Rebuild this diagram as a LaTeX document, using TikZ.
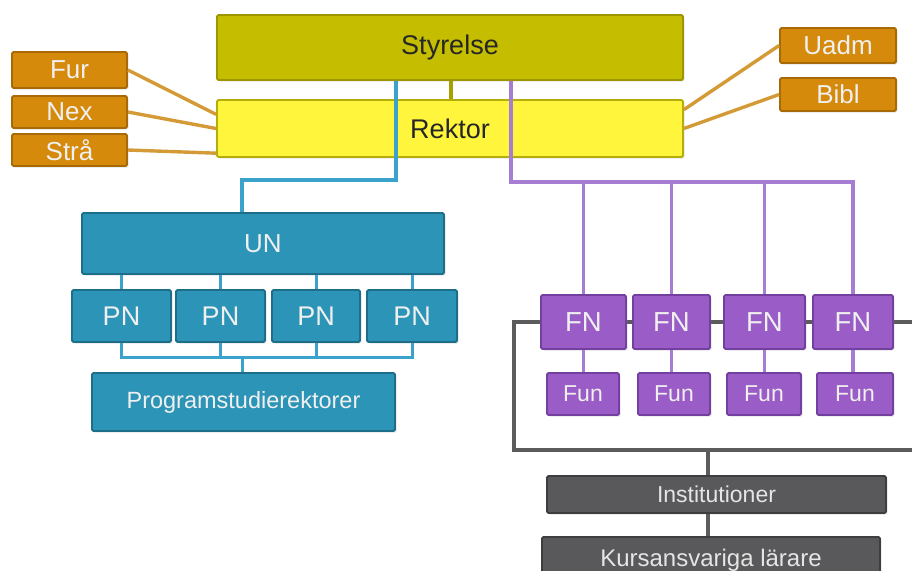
\documentclass[tikz,border=0pt]{standalone}
\usepackage{fontspec}
\setmainfont{Liberation Sans}
\usetikzlibrary{shadows,calc}

\definecolor{styrfill}{HTML}{C4BD00}
\definecolor{styrdraw}{HTML}{9C9600}
\definecolor{rekfill}{HTML}{FFF53C}
\definecolor{rekdraw}{HTML}{B5AD0A}
\definecolor{orfill}{HTML}{D68A0C}
\definecolor{ordraw}{HTML}{A86A06}
\definecolor{orline}{HTML}{D49A35}
\definecolor{blfill}{HTML}{2C94B7}
\definecolor{bldraw}{HTML}{1D6E88}
\definecolor{blline}{HTML}{3BA3CB}
\definecolor{pufill}{HTML}{9A5CC6}
\definecolor{pudraw}{HTML}{7440A0}
\definecolor{puline}{HTML}{A57DD3}
\definecolor{grfill}{HTML}{59595B}
\definecolor{grdraw}{HTML}{3E3E40}
\definecolor{grline}{HTML}{5C5C5C}

\tikzset{
  box/.style={rectangle, rounded corners=1.5pt, line width=1.8pt, inner sep=0pt,
    drop shadow={opacity=0.22, shadow xshift=1.5pt, shadow yshift=-1.5pt}},
  fs/.style={font=\fontsize{#1}{#1}\selectfont},
  styrbox/.style={box, fill=styrfill, draw=styrdraw, text=black!85, fs=27},
  rekbox/.style={box, fill=rekfill, draw=rekdraw, text=black!85, fs=27},
  orbox/.style={box, fill=orfill, draw=ordraw, text=white!94!black, fs=26},
  blbox/.style={box, fill=blfill, draw=bldraw, text=white!94!black},
  pubox/.style={box, fill=pufill, draw=pudraw, text=white!94!black},
  grbox/.style={box, fill=grfill, draw=grdraw, text=white!90!black},
  orconn/.style={draw=orline, line width=3.4pt},
  blconn/.style={draw=blline, line width=3.4pt},
  puconn/.style={draw=puline, line width=3.4pt},
  grconn/.style={draw=grline, line width=3.4pt},
  olconn/.style={draw=styrfill!85!black, line width=3.2pt},
}

\begin{document}
\begin{tikzpicture}[x=1pt, y=-1pt]
\useasboundingbox (0,0) rectangle (912,570);
\clip (0,0) rectangle (912,570);

% frame round the faculty boards, drawn first so the boxes sit on it
\coordinate (fr1) at (920,322);
\coordinate (fr2) at (514,322);
\coordinate (fr3) at (514,450);
\coordinate (fr4) at (920,450);
\coordinate (g1) at (708,450);
\draw[grconn] (fr1) -- (fr2) -- (fr3) -- (fr4);

% top level
\node[styrbox, minimum width=466, minimum height=65] (styr) at (450,47.5) {Styrelse};
\node[rekbox, minimum width=466, minimum height=57] (rek) at (450,128.5) {Rektor};
\draw[olconn] (styr.south -| 451,0) -- (rek.north -| 451,0);

% staff units
\node[orbox, minimum width=115, minimum height=36] (fur) at (69.5,70) {Fur};
\node[orbox, minimum width=115, minimum height=32] (nex) at (69.5,112) {Nex};
\node[orbox, minimum width=115, minimum height=32] (stra) at (69.5,150) {Strå};
\node[orbox, minimum width=116, minimum height=35] (uadm) at (838,45.5) {Uadm};
\node[orbox, minimum width=116, minimum height=33] (bibl) at (838,94.5) {Bibl};

\draw[orconn] (fur.east) -- ($(rek.north west)!0.26!(rek.south west)$);
\draw[orconn] (nex.east) -- (rek.west);
\draw[orconn] (stra.east) -- ($(rek.north west)!0.92!(rek.south west)$);
\draw[orconn] (uadm.west) -- ($(rek.north east)!0.18!(rek.south east)$);
\draw[orconn] (bibl.west) -- (rek.east);

% education board
\node[blbox, fs=26, minimum width=362, minimum height=61] (un) at (263,243.5) {UN};
\node[blbox, fs=27, minimum width=99, minimum height=52] (pn1) at (121.5,316) {PN};
\node[blbox, fs=27, minimum width=89, minimum height=52] (pn2) at (220.5,316) {PN};
\node[blbox, fs=27, minimum width=88, minimum height=52] (pn3) at (316,316) {PN};
\node[blbox, fs=27, minimum width=90, minimum height=52] (pn4) at (412,316) {PN};
\node[blbox, fs=23.5, minimum width=303, minimum height=58] (prog) at (243.5,402) {Programstudierektorer};

\coordinate (b1) at (396,180);
\coordinate (b2) at (242,180);
\draw[blconn] (styr.south -| b1) -- (b1) -- (b2) -- (un.north -| b2);

\coordinate (pbar) at (242,357);
\foreach \p in {pn1,pn2,pn3,pn4}{
  \draw[blconn, line width=3pt] (un.south -| \p.north) -- (\p.north);
}
\draw[blconn, line width=3pt] (pn1.south) -- (pn1.south |- pbar) -- (pn4.south |- pbar) -- (pn4.south);
\draw[blconn, line width=3pt] (pn2.south) -- (pn2.south |- pbar);
\draw[blconn, line width=3pt] (pn3.south) -- (pn3.south |- pbar);
\draw[blconn, line width=3pt] (pbar) -- (prog.north -| pbar);

% faculty boards
\node[pubox, fs=27.5, minimum width=85, minimum height=54] (fn1) at (583.5,322) {FN};
\node[pubox, fs=27.5, minimum width=77, minimum height=54] (fn2) at (671.5,322) {FN};
\node[pubox, fs=27.5, minimum width=81, minimum height=54] (fn3) at (764.5,322) {FN};
\node[pubox, fs=27.5, minimum width=80, minimum height=54] (fn4) at (853,322) {FN};
\node[pubox, fs=23, minimum width=72, minimum height=42] (fun1) at (583,394) {Fun};
\node[pubox, fs=23, minimum width=72, minimum height=42] (fun2) at (674,394) {Fun};
\node[pubox, fs=23, minimum width=74, minimum height=42] (fun3) at (764,394) {Fun};
\node[pubox, fs=23, minimum width=76, minimum height=42] (fun4) at (855,394) {Fun};

\coordinate (p1) at (511,182);
\draw[puconn] (styr.south -| p1) -- (p1) -- (p1 -| fn4.north) -- (fn4.north);
\foreach \f in {fn1,fn2,fn3}{
  \draw[puconn] (p1 -| \f.north) -- (\f.north);
}
\foreach \f/\u in {fn1/fun1,fn2/fun2,fn3/fun3,fn4/fun4}{
  \draw[puconn] (\f.south) -- (\f.south |- \u.north);
}

% departments and teachers
\node[grbox, fs=23, minimum width=339, minimum height=37] (inst) at (716.5,494.5) {Institutioner};
\node[grbox, fs=24, minimum width=338, minimum height=42, text depth=0pt] (kurs) at (711,558) {Kursansvariga lärare};
\draw[grconn] (g1) -- (inst.north -| g1);
\draw[grconn] (inst.south -| g1) -- (kurs.north -| g1);
\end{tikzpicture}
\end{document}
